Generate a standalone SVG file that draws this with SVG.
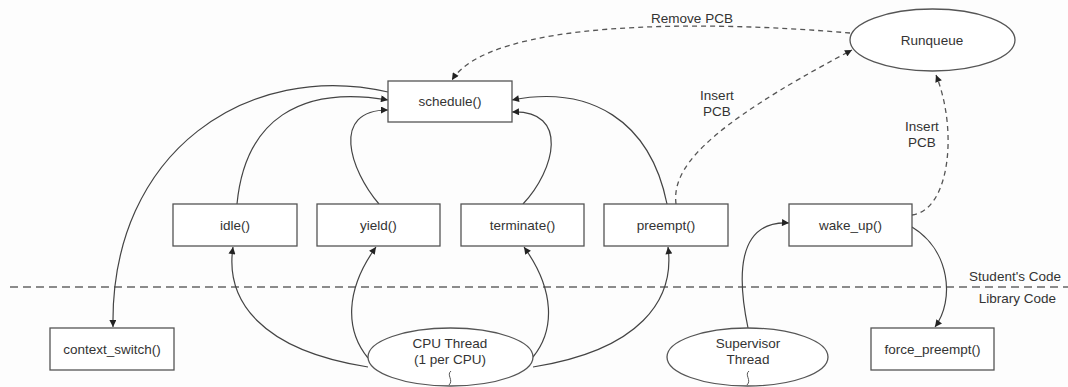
<svg xmlns="http://www.w3.org/2000/svg" width="1068" height="387" viewBox="0 0 1068 387">
<style>
  .box { fill: #ffffff; stroke: #555555; stroke-width: 1.3; }
  .ell { fill: #ffffff; stroke: #555555; stroke-width: 1.3; }
  .t { font-family: "Liberation Sans", Arial, sans-serif; font-size: 13.5px; fill: #333333; text-anchor: middle; dominant-baseline: central; }
  .te { font-family: "Liberation Sans", Arial, sans-serif; font-size: 13.5px; fill: #333333; text-anchor: end; dominant-baseline: central; }
  .c { fill: none; stroke: #444444; stroke-width: 1.2; marker-end: url(#arr); }
  .d { fill: none; stroke: #555555; stroke-width: 1.3; stroke-dasharray: 5 4; marker-end: url(#arr); }
  .sq { fill: none; stroke: #555555; stroke-width: 1; }
</style>
<defs>
  <marker id="arr" viewBox="0 0 10 10" refX="10" refY="5" markerWidth="8" markerHeight="7" markerUnits="userSpaceOnUse" orient="auto">
    <path d="M0,0 L10,5 L0,10 z" fill="#222222"/>
  </marker>
</defs>
<rect width="1068" height="387" fill="#fdfdfd"/>

<g id="divider">
  <line x1="10" y1="287" x2="1068" y2="287" stroke="#666666" stroke-width="1.3" stroke-dasharray="8 5"/>
  <text class="te" x="1061" y="276">Student's Code</text>
  <text class="te" x="1056" y="298">Library Code</text>
</g>

<g id="connectors">
  <path class="d" d="M850,33 C700,20 490,20 452,80"/>
  <path class="d" d="M676,204 C672,170 700,130 852,50"/>
  <path class="d" d="M912,215 C950,210 958,130 936,75"/>
  <path class="c" d="M388,92 C250,60 110,150 113,327"/>
  <path class="c" d="M237,204 C245,120 300,85 388,100"/>
  <path class="c" d="M379,204 C350,170 330,110 388,110"/>
  <path class="c" d="M523,204 C555,170 570,110 512,112"/>
  <path class="c" d="M667,204 C650,120 590,85 512,100"/>
  <path class="c" d="M368,367 C260,350 225,300 233,247"/>
  <path class="c" d="M368,358 C345,330 345,290 376,247"/>
  <path class="c" d="M533,357 C555,330 555,290 524,247"/>
  <path class="c" d="M533,367 C640,350 675,300 668,247"/>
  <path class="c" d="M748,328 C738,280 735,220 789,223"/>
  <path class="c" d="M912,227 C950,250 955,300 935,327"/>
  <text class="t" x="692" y="18">Remove PCB</text>
  <text class="t" x="717" y="95">Insert</text>
  <text class="t" x="717" y="111">PCB</text>
  <text class="t" x="922" y="126">Insert</text>
  <text class="t" x="922" y="142">PCB</text>
</g>

<g id="runqueue">
  <ellipse class="ell" cx="932.5" cy="40" rx="82.5" ry="31"/>
  <text class="t" x="932" y="40">Runqueue</text>
</g>
<g id="schedule">
  <rect class="box" x="388" y="81" width="124" height="41"/>
  <text class="t" x="450" y="101.5">schedule()</text>
</g>
<g id="idle">
  <rect class="box" x="173" y="204" width="124" height="42"/>
  <text class="t" x="235" y="225">idle()</text>
</g>
<g id="yield">
  <rect class="box" x="317" y="204" width="123" height="42"/>
  <text class="t" x="378.5" y="225">yield()</text>
</g>
<g id="terminate">
  <rect class="box" x="461" y="204" width="123" height="42"/>
  <text class="t" x="522.5" y="225">terminate()</text>
</g>
<g id="preempt">
  <rect class="box" x="604" y="204" width="124" height="42"/>
  <text class="t" x="666" y="225">preempt()</text>
</g>
<g id="wake_up">
  <rect class="box" x="789" y="204" width="123" height="42"/>
  <text class="t" x="850.5" y="225">wake_up()</text>
</g>
<g id="context_switch">
  <rect class="box" x="50" y="328" width="124" height="42"/>
  <text class="t" x="112" y="349">context_switch()</text>
</g>
<g id="force_preempt">
  <rect class="box" x="871" y="328" width="123" height="42"/>
  <text class="t" x="932.5" y="349">force_preempt()</text>
</g>
<g id="cpu_thread">
  <ellipse class="ell" cx="450.5" cy="357" rx="82.5" ry="29"/>
  <text class="t" x="450" y="343">CPU Thread</text>
  <text class="t" x="450" y="359">(1 per CPU)</text>
  <path class="sq" d="M451,371 C446,375 454,380 449,385"/>
</g>
<g id="supervisor_thread">
  <ellipse class="ell" cx="747.5" cy="357" rx="80.5" ry="29"/>
  <text class="t" x="748" y="343">Supervisor</text>
  <text class="t" x="748" y="359">Thread</text>
  <path class="sq" d="M749,371 C744,375 752,380 747,385"/>
</g>
</svg>
